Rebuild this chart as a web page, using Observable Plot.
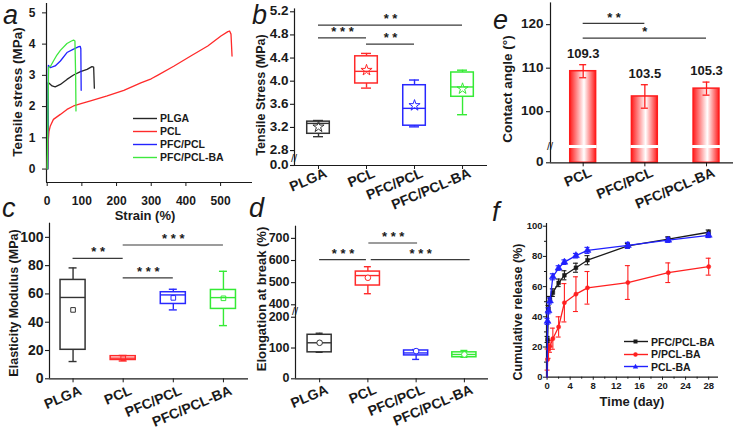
<!DOCTYPE html>
<html><head><meta charset="utf-8">
<script src="https://cdn.jsdelivr.net/npm/d3@7"></script>
<script src="https://cdn.jsdelivr.net/npm/@observablehq/plot@0.6"></script>
<style>
html,body{margin:0;padding:0;background:#fff;overflow:hidden}
#root{position:relative;width:733px;height:430px;overflow:hidden;font-family:"Liberation Sans",Arial,sans-serif;font-weight:bold;color:#1a1a1a}
.panel{position:absolute}
.panel svg{max-width:none;overflow:visible}
.lbl{position:absolute;font-style:italic;font-weight:normal;font-size:27px;line-height:normal;white-space:nowrap}
.ytitle{position:absolute;white-space:nowrap;transform:translate(-50%,-50%) rotate(-90deg);line-height:1}
.xtitle{position:absolute;white-space:nowrap;transform:translate(-50%,-50%);line-height:1}
.ytick{position:absolute;white-space:nowrap;transform:translate(-100%,-50%);line-height:1}
.brk{position:absolute;white-space:nowrap;transform:translate(-50%,-50%);line-height:1;font-weight:normal;font-size:11px}
.legend{position:absolute;font-size:10.5px;line-height:1}
.legend .row{display:flex;align-items:center;height:13px}
.legend svg{margin-right:3px}
</style></head><body><div id="root"></div>
<script>
const FONT = '"Liberation Sans", Arial, sans-serif';
const INK = "#1a1a1a";

// ---------- panel a : stress-strain curves ----------
const aSeries = ["PLGA", "PCL", "PFC/PCL", "PFC/PCL-BA"];
const aColors = ["#262626", "#ff2a2a", "#2323ff", "#3fe83f"];
const strainPLGA = [2, 3, 8, 14, 23, 38, 57, 76, 96, 115, 129, 134, 136];
const stressPLGA = [0, 2.77, 2.72, 2.66, 2.63, 2.71, 2.87, 3.01, 3.12, 3.19, 3.28, 3.26, 2.59];
const strainPCL = [0, 1, 3, 5, 9, 18, 38, 57, 76, 100, 125, 173, 221, 270, 300, 318, 366, 414, 463, 501, 521, 526, 530, 533];
const stressPCL = [0, 0.4, 0.9, 1.2, 1.38, 1.59, 1.75, 1.91, 2.02, 2.1, 2.18, 2.34, 2.52, 2.76, 2.89, 3.0, 3.3, 3.62, 3.94, 4.26, 4.40, 4.42, 4.32, 3.62];
const strainPFC = [1, 3.5, 9, 15, 23, 38, 57, 76, 91, 95, 97, 98];
const stressPFC = [0, 3.32, 3.25, 3.27, 3.30, 3.46, 3.73, 3.84, 3.92, 3.93, 3.85, 2.52];
const strainPFCBA = [0, 4, 10, 18, 28, 38, 57, 70, 76, 80, 82, 83];
const stressPFCBA = [0, 3.25, 3.3, 3.46, 3.65, 3.80, 4.02, 4.1, 4.13, 4.1, 3.0, 1.86];
const strainTicks = [0, 100, 200, 300, 400, 500];
const stressTicks = [0, 1, 2, 3, 4, 5];

// ---------- box-plot panels b, c, d ----------
const groups4 = ["PLGA", "PCL", "PFC/PCL", "PFC/PCL-BA"];
const boxColors = ["#333333", "#ff2a2a", "#2828ff", "#35ea35"];
// b: tensile stress (MPa)
const tsMin = [3.04, 3.88, 3.21, 3.42];
const tsQ1 = [3.09, 3.96, 3.23, 3.73];
const tsMed = [3.27, 4.17, 3.53, 3.90];
const tsQ3 = [3.30, 4.43, 3.93, 4.15];
const tsMax = [3.32, 4.48, 4.02, 4.19];
const tsMean = [3.21, 4.19, 3.58, 3.87];
const tsTicks = [0, 2.8, 3.2, 3.6, 4.0, 4.4, 4.8, 5.2];
const tsSigFrom = [0, 1, 0], tsSigTo = [1, 2, 3], tsSigY = [4.75, 4.64, 4.97], tsSigLabel = ["* * *", "* *", "* *"];
// c: elasticity modulus (MPa)
const emMin = [12.2, 12.6, 48.7, 37.6];
const emQ1 = [20.5, 13.3, 52.9, 49.4];
const emMed = [57.5, 14.6, 59.3, 57.4];
const emQ3 = [69.9, 16.0, 61.2, 62.8];
const emMax = [78.4, 16.5, 63.3, 76.0];
const emMean = [48.7, 14.6, 57.2, 56.9];
const emTicks = [0, 20, 40, 60, 80, 100];
const emSigFrom = [0, 1, 1], emSigTo = [1, 3, 2], emSigY = [85.2, 94.6, 71.3], emSigLabel = ["* *", "* * *", "* * *"];
// d: elongation at break (%)
const ebMin = [86, 450, 63, 70];
const ebQ1 = [86, 487, 76, 70];
const ebMed = [117, 532, 84, 79];
const ebQ3 = [143, 550, 92, 86];
const ebMax = [148, 572, 95, 92];
const ebMean = [117, 522, 90, 79];
const ebTicks = [0, 100, 200, 400, 500, 600, 700];
const ebSigFrom = [0, 1.07, 1.02], ebSigTo = [0.97, 3.12, 2.03], ebSigY = [604, 604, 679], ebSigLabel = ["* * *", "* * *", "* * *"];

// ---------- panel e : contact angle ----------
const caGroups = ["PCL", "PFC/PCL", "PFC/PCL-BA"];
const caMean = [109.3, 103.5, 105.3];
const caErr = [1.5, 2.7, 1.5];
const caTicks = [0, 100, 110, 120];
const caSigFrom = [0, 0], caSigTo = [1, 2], caSigY = [120.3, 116.9], caSigLabel = ["* *", "*"];

// ---------- panel f : cumulative release ----------
const fSeries = ["PFC/PCL-BA", "P/PCL-BA", "PCL-BA"];
const fColors = ["#1a1a1a", "#ff2020", "#2020ff"];
const fSymbols = ["square", "circle", "triangle"];
const days = [0, 0.083, 0.25, 0.5, 1, 2, 3, 5, 7, 14, 21, 28];
const relPFC = [0, 25, 45.5, 51.5, 56, 62.5, 67.5, 72.5, 77.5, 87, 91.5, 96];
const errPFC = [0, 2, 2, 2, 2.5, 2.5, 3, 3, 3, 1.5, 1.5, 1.5];
const relP = [0, 11.7, 18.5, 20.5, 25.5, 33.3, 49.3, 55, 59.2, 62.7, 69.2, 73.2];
const errP = [0, 7, 6, 4, 7, 6.7, 12.7, 11.5, 10.8, 11.2, 6.5, 5.6];
const relPCL = [0, 37, 44, 50.5, 66.5, 72.3, 76.2, 80.5, 84, 87.3, 90.8, 94];
const errPCL = [0, 2, 2, 2, 2, 1.5, 1.5, 1.5, 2, 2, 1.5, 1.5];
const dayTicks = [0, 4, 8, 12, 16, 20, 24, 28];
const dayMinor = [2, 6, 10, 14, 18, 22, 26];
const relTicks = [0, 20, 40, 60, 80, 100];
const relMinor = [10, 30, 50, 70, 90];

const root = document.getElementById("root");
function place(el, left, top, w, h) {
  const d = document.createElement("div");
  d.className = "panel";
  d.style.left = left + "px"; d.style.top = top + "px";
  d.style.width = w + "px"; d.style.height = h + "px";
  d.appendChild(el); root.appendChild(d);
}
function html(cls, text, left, top, extra) {
  const d = document.createElement("div");
  d.className = cls; d.textContent = text;
  d.style.left = left + "px"; d.style.top = top + "px";
  if (extra) Object.assign(d.style, extra);
  root.appendChild(d);
}
const baseStyle = (fs) => ({fontFamily: FONT, fontWeight: "bold", fontSize: fs + "px", color: INK, background: "transparent", maxWidth: "none", overflow: "visible"});

// broken (piecewise) value axis: values go through a piecewise map into a plain linear Plot scale
// (u = distance in pixels above the baseline); g gives the pixel row inside the panel
function brokenY(domain, range) {
  const g = d3.scaleLinear().domain(domain).range(range);
  const base = range[0], top = range[range.length - 1];
  const f = v => base - g(v);
  return {f, g, scale: {domain: [0, base - top], range: [base, top], axis: null}};
}
// tick marks (Plot) for the broken scales
function yTickMarks(ticks, f, x0, len) {
  return Plot.ruleY(ticks.map(v => ({x: x0, y: f(v)})), {y: "y", x1: "x", x2: "x", insetLeft: -len, stroke: INK, strokeWidth: 1.1});
}
// tick labels placed from the same scale mapping
function yTickLabels(ticks, g, fmt, panelLeft, panelTop, axisX, gap, fs) {
  ticks.forEach(v => html("ytick", fmt(v), panelLeft + axisX - gap, panelTop + g(v), {fontSize: fs + "px"}));
}
function breakMark(g, v, panelLeft, panelTop, axisX) {
  html("brk", "//", panelLeft + axisX, panelTop + g(v));
}
function catLabels(names, base, fs, dy) {
  return Plot.text(names.map((n, i) => ({i, n})), {
    x: "i", y: () => base, text: "n", rotate: -23, textAnchor: "end", lineAnchor: "top",
    dx: 5.5, dy, fontSize: fs
  });
}

// ---------- a ----------
{
  const rows = [];
  [[strainPLGA, stressPLGA], [strainPCL, stressPCL], [strainPFC, stressPFC], [strainPFCBA, stressPFCBA]].forEach(([xs, ys], k) => {
    xs.forEach((x, j) => rows.push({s: aSeries[k], x, y: ys[j], c: aColors[k]}));
  });
  const p = Plot.plot({
    width: 255, height: 215, marginLeft: 46, marginRight: 3, marginTop: 3, marginBottom: 33,
    style: baseStyle(12),
    x: {domain: [-2, 592]}, y: {domain: [-0.43, 5.3]},
    color: {type: "identity"},
    marks: [
      Plot.ruleX([-2], {stroke: INK, strokeWidth: 1.2}),
      Plot.ruleY([-0.43], {stroke: INK, strokeWidth: 1.2}),
      Plot.axisX({ticks: strainTicks, tickFormat: d3.format("d"), tickSize: 4, tickPadding: 10, label: null}),
      Plot.axisY({ticks: stressTicks, tickFormat: d3.format("d"), tickSize: 4, tickPadding: 7, label: null}),
      Plot.line(rows, {x: "x", y: "y", z: "s", stroke: "c", strokeWidth: 1.3})
    ]
  });
  place(p, 0, 0, 255, 215);
}

// ---------- box panel helper ----------
function boxPanel(o, left, top) {
  const {f, g, scale} = brokenY(o.yDomain, o.yRange);
  const Y = k => d => f(d[k]);
  const rows = groups4.map((gr, i) => ({i, color: boxColors[i], min: o.min[i], q1: o.q1[i], med: o.med[i], q3: o.q3[i], max: o.max[i], mean: o.mean[i]}));
  const sig = o.sigFrom.map((s, k) => ({from: s, to: o.sigTo[k], y: o.sigY[k], label: o.sigLabel[k]}));
  const h = o.half, sw = 1.4;
  const marks = [
    Plot.ruleX(rows, {x: "i", y1: Y("q3"), y2: Y("max"), stroke: "color", strokeWidth: sw}),
    Plot.ruleX(rows, {x: "i", y1: Y("min"), y2: Y("q1"), stroke: "color", strokeWidth: sw}),
    Plot.ruleY(rows, {x1: "i", x2: "i", y: Y("max"), stroke: "color", insetLeft: -o.cap, insetRight: -o.cap, strokeWidth: sw}),
    Plot.ruleY(rows, {x1: "i", x2: "i", y: Y("min"), stroke: "color", insetLeft: -o.cap, insetRight: -o.cap, strokeWidth: sw}),
    Plot.rect(rows, {x1: d => d.i - h, x2: d => d.i + h, y1: Y("q1"), y2: Y("q3"), stroke: "color", fill: "none", strokeWidth: 1.5}),
    Plot.ruleY(rows, {x1: d => d.i - h, x2: d => d.i + h, y: Y("med"), stroke: "color", strokeWidth: sw}),
    Plot.dot(rows, {x: "i", y: Y("mean"), symbol: o.symbol, r: o.r, stroke: "color", fill: o.meanFill, strokeWidth: 1}),
    Plot.ruleY(sig, {x1: "from", x2: "to", y: Y("y"), stroke: "#3a3a3a", strokeWidth: 1.2}),
    Plot.text(sig, {x: d => (d.from + d.to) / 2, y: Y("y"), text: "label", dy: -6, fontSize: 13}),
    Plot.ruleX([o.xDomain[0]], {stroke: INK, strokeWidth: 1.2}),
    Plot.ruleY([0], {y: d => f(d), stroke: INK, strokeWidth: 1.2}),
    Plot.axisX({ticks: [0, 1, 2, 3], tickFormat: () => "", tickSize: 4, label: null}),
    catLabels(groups4, f(0), 14, o.labDy),
    yTickMarks(o.yTicks, f, o.xDomain[0], 4)
  ];
  const p = Plot.plot({
    width: o.width, height: o.height, marginLeft: o.ml, marginRight: o.mr, marginTop: o.mt, marginBottom: o.mb,
    style: baseStyle(13),
    x: {domain: o.xDomain},
    y: scale,
    color: {type: "identity"},
    marks
  });
  place(p, left, top, o.width, o.height);
  yTickLabels(o.yTicks, g, o.yFormat, left, top, o.ml, 5.5, o.yFont);
  if (o.breakY !== undefined) breakMark(g, o.breakY, left, top, o.ml);
}

// ---------- b ----------
boxPanel({
  min: tsMin, q1: tsQ1, med: tsMed, q3: tsQ3, max: tsMax, mean: tsMean,
  sigFrom: tsSigFrom, sigTo: tsSigTo, sigY: tsSigY, sigLabel: tsSigLabel,
  half: 0.235, cap: 5, symbol: "star", r: 3.5, meanFill: "none",
  width: 250, height: 215, ml: 54, mr: 3, mt: 8.4, mb: 50,
  xDomain: [-0.5, 3.52], yDomain: [0, 2.68, 5.25], yRange: [165, 157, 8.4],
  yTicks: tsTicks, yFormat: d3.format(".1f"), yFont: 13.5, breakY: 2.2, labDy: 2
}, 240, 0);

// ---------- c ----------
boxPanel({
  min: emMin, q1: emQ1, med: emMed, q3: emQ3, max: emMax, mean: emMean,
  sigFrom: emSigFrom, sigTo: emSigTo, sigY: emSigY, sigLabel: emSigLabel,
  half: 0.25, cap: 4, symbol: "square", r: 2.6, meanFill: "none",
  width: 250, height: 220, ml: 49, mr: 2, mt: 12.7, mb: 51.7,
  xDomain: [-0.47, 3.5], yDomain: [0, 110], yRange: [168.3, 12.7],
  yTicks: emTicks, yFormat: d3.format("d"), yFont: 14, labDy: 6
}, 0, 210);

// ---------- d ----------
boxPanel({
  min: ebMin, q1: ebQ1, med: ebMed, q3: ebQ3, max: ebMax, mean: ebMean,
  sigFrom: ebSigFrom, sigTo: ebSigTo, sigY: ebSigY, sigLabel: ebSigLabel,
  half: 0.25, cap: 3.5, symbol: "circle", r: 2.8, meanFill: "#fff",
  width: 250, height: 220, ml: 55, mr: 2, mt: 15.7, mb: 51.7,
  xDomain: [-0.5, 3.5], yDomain: [0, 205, 385, 755], yRange: [168.3, 105.2, 97.6, 15.7],
  yTicks: ebTicks, yFormat: d3.format("d"), yFont: 12.5, breakY: 295, labDy: 5
}, 240, 210);

// ---------- e ----------
{
  const {f, g, scale} = brokenY([0, 92, 125], [162.3, 146, 2.4]);
  const rows = caGroups.map((gr, i) => ({i, m: caMean[i], e: caErr[i]}));
  const sig = caSigFrom.map((s, k) => ({from: s, to: caSigTo[k], y: caSigY[k], label: caSigLabel[k]}));
  const h = 0.21, red = "#ff1c1c";
  const p = Plot.plot({
    width: 245, height: 215, marginLeft: 60, marginRight: 0, marginTop: 2.4, marginBottom: 52.7,
    style: baseStyle(13),
    x: {domain: [-0.53, 2.47]},
    y: scale,
    marks: [
      Plot.rect(rows, {x1: d => d.i - h, x2: d => d.i + h, y1: () => f(0), y2: d => f(d.m), fill: "url(#egrad)", stroke: red, strokeWidth: 1.5}),
      Plot.ruleY(rows, {x1: d => d.i - h, x2: d => d.i + h, y: () => f(92), stroke: "#fff", strokeWidth: 3, insetLeft: -1, insetRight: -1}),
      Plot.ruleX(rows, {x: "i", y1: d => f(d.m - d.e), y2: d => f(d.m + d.e), stroke: red, strokeWidth: 1.3}),
      Plot.ruleY(rows, {x1: "i", x2: "i", y: d => f(d.m + d.e), stroke: red, strokeWidth: 1.3, insetLeft: -3.5, insetRight: -3.5}),
      Plot.ruleY(rows, {x1: "i", x2: "i", y: d => f(d.m - d.e), stroke: red, strokeWidth: 1.3, insetLeft: -3.5, insetRight: -3.5}),
      Plot.text(rows, {x: "i", y: d => f(d.m + d.e), text: d => d.m.toFixed(1), dy: -11, fontSize: 13}),
      Plot.ruleY(sig, {x1: "from", x2: "to", y: d => f(d.y), stroke: "#3a3a3a", strokeWidth: 1.2}),
      Plot.text(sig, {x: d => (d.from + d.to) / 2, y: d => f(d.y), text: "label", dy: -6, fontSize: 13}),
      Plot.ruleX([-0.53], {stroke: INK, strokeWidth: 1.2}),
      Plot.ruleY([0], {y: d => f(d), stroke: INK, strokeWidth: 1.2}),
      yTickMarks(caTicks, f, -0.53, 4),
      Plot.axisX({ticks: [0, 1, 2], tickFormat: () => "", tickSize: 4, label: null}),
      catLabels(caGroups, f(0), 14, 4)
    ]
  });
  const defs = document.createElementNS("http://www.w3.org/2000/svg", "defs");
  defs.innerHTML = '<linearGradient id="egrad" x1="0" x2="1" y1="0" y2="0"><stop offset="0" stop-color="#ff1c1c"/><stop offset="0.55" stop-color="#ffffff"/><stop offset="1" stop-color="#ff1c1c"/></linearGradient>';
  p.insertBefore(defs, p.firstChild);
  place(p, 490, 0, 245, 215);
  yTickLabels(caTicks, g, d => String(d), 490, 0, 60, 6.5, 13.5);
  breakMark(g, 92, 490, 0, 60);
}

// ---------- f ----------
{
  const rows = [];
  [[relPFC, errPFC], [relP, errP], [relPCL, errPCL]].forEach(([vs, es], k) => {
    days.forEach((t, j) => rows.push({s: fSeries[k], k, t, v: vs[j], e: es[j]}));
  });
  const order = [1, 0, 2];
  const marks = [
    Plot.ruleX([-0.1], {stroke: INK, strokeWidth: 1.2}),
    Plot.ruleY([0], {stroke: INK, strokeWidth: 1.2}),
    Plot.axisX({ticks: dayTicks, tickSize: 3, tickPadding: 2, label: null, fontSize: 9.5}),
    Plot.axisX({ticks: dayMinor, tickSize: 2, tickFormat: () => "", label: null}),
    Plot.axisY({ticks: relTicks, tickSize: 3, tickPadding: 1, label: null, fontSize: 9.5}),
    Plot.axisY({ticks: relMinor, tickSize: 2, tickFormat: () => "", label: null})
  ];
  order.forEach(k => {
    const r = rows.filter(d => d.k === k);
    const c = fColors[k];
    const eb = r.filter(d => d.e > 0);
    marks.push(
      Plot.ruleX(eb, {x: "t", y1: d => d.v - d.e, y2: d => d.v + d.e, stroke: c, strokeWidth: 1.1}),
      Plot.ruleY(eb, {x1: "t", x2: "t", y: d => d.v + d.e, stroke: c, strokeWidth: 1.1, insetLeft: -2.5, insetRight: -2.5}),
      Plot.ruleY(eb, {x1: "t", x2: "t", y: d => d.v - d.e, stroke: c, strokeWidth: 1.1, insetLeft: -2.5, insetRight: -2.5}),
      Plot.line(r, {x: "t", y: "v", stroke: c, strokeWidth: 1.3}),
      Plot.dot(r.filter(d => d.t > 0), {x: "t", y: "v", symbol: fSymbols[k], r: fSymbols[k] === "triangle" ? 2.6 : 2.1, fill: c, stroke: c, strokeWidth: 0.5})
    );
  });
  const p = Plot.plot({
    width: 243, height: 220, marginLeft: 56, marginRight: 15, marginTop: 13, marginBottom: 53.3,
    style: baseStyle(9.5),
    x: {domain: [-0.1, 29.7]}, y: {domain: [0, 101.8]},
    marks
  });
  place(p, 490, 210, 243, 220);
}

// ---------- titles, letters, legends ----------
html("ytitle", "Tensile stress (MPa)", 18, 92, {fontSize: "13.5px"});
html("xtitle", "Strain (%)", 145, 215, {fontSize: "13px"});
html("ytitle", "Tensile Stress (MPa)", 261, 95, {fontSize: "12.5px"});
html("ytitle", "Elasticity Modulus (MPa)", 13.5, 303, {fontSize: "12.5px"});
html("ytitle", "Elongation at break (%)", 261, 299, {fontSize: "13px"});
html("ytitle", "Contact angle (°)", 508, 89, {fontSize: "13.5px"});
html("ytitle", "Cumulative release (%)", 518, 312, {fontSize: "12.5px"});
html("xtitle", "Time (day)", 632, 401, {fontSize: "13px"});

html("lbl", "a", 3, 0);
html("lbl", "b", 252, 0);
html("lbl", "e", 493, 5);
html("lbl", "c", 2, 193);
html("lbl", "d", 249, 193);
html("lbl", "f", 492, 197);

function legend(left, top, names, colors, symbols, rowH) {
  const box = document.createElement("div");
  box.className = "legend";
  box.style.left = left + "px"; box.style.top = top + "px";
  names.forEach((n, k) => {
    const row = document.createElement("div");
    row.className = "row"; row.style.height = rowH + "px";
    let mk = "";
    if (symbols) {
      const s = symbols[k];
      if (s === "square") mk = `<rect x="9.5" y="2.5" width="4" height="4" fill="${colors[k]}"/>`;
      else if (s === "circle") mk = `<circle cx="11.5" cy="4.5" r="2.2" fill="${colors[k]}"/>`;
      else mk = `<path d="M11.5,1.8 L14.2,6.4 L8.8,6.4 Z" fill="${colors[k]}"/>`;
    }
    row.innerHTML = `<svg width="24" height="9"><line x1="0" x2="24" y1="4.5" y2="4.5" stroke="${colors[k]}" stroke-width="1.4"/>${mk}</svg><span>${n}</span>`;
    box.appendChild(row);
  });
  root.appendChild(box);
}
legend(133, 111.5, aSeries, aColors, null, 13);
legend(624, 335.5, fSeries, fColors, fSymbols, 12.5);
</script></body></html>
